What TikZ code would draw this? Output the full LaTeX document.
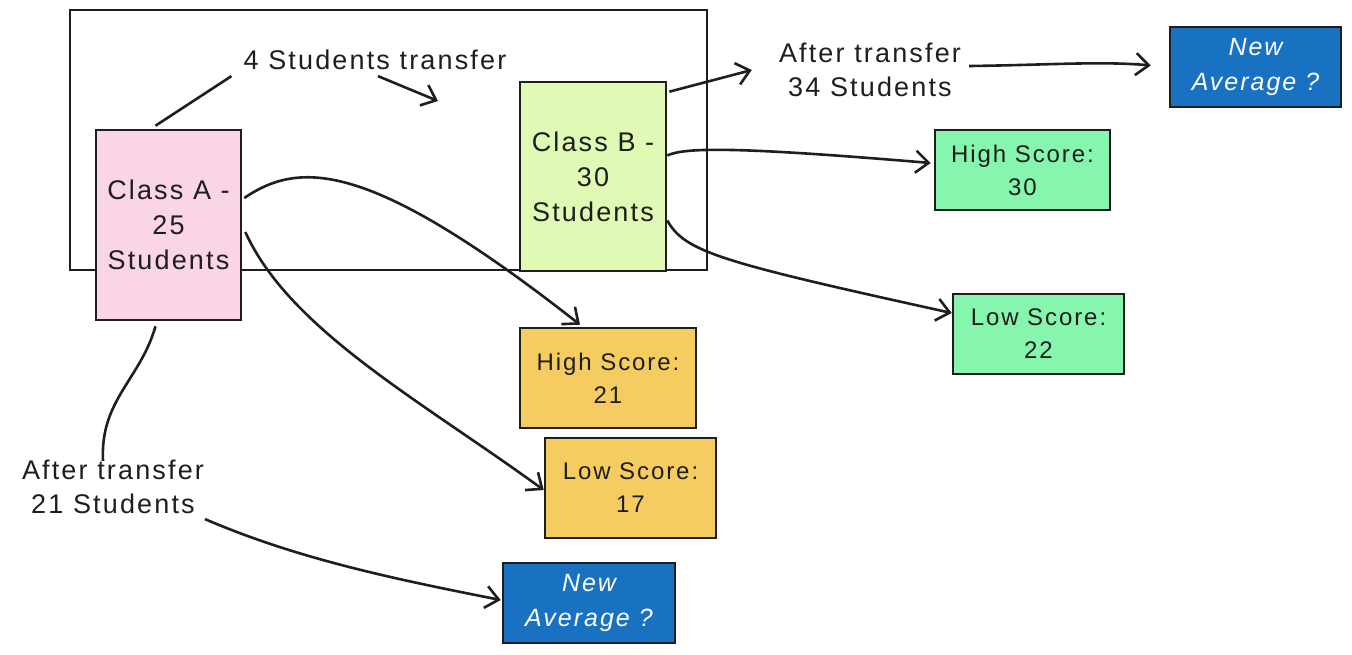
\documentclass[tikz,border=0pt]{standalone}
\usepackage{fontspec}
\setmainfont{Liberation Sans}[LetterSpace=8]
\usetikzlibrary{arrows.meta}
\definecolor{ink}{HTML}{1E1E1E}
\definecolor{pinkf}{HTML}{F9D5E5}
\definecolor{limef}{HTML}{E0F9B5}
\definecolor{mintf}{HTML}{86F5AE}
\definecolor{yellowf}{HTML}{F5CC60}
\definecolor{bluef}{HTML}{1971C2}
\tikzset{
  box/.style={draw=ink, line width=2.6pt, align=center, inner sep=0pt,
    font=\fontsize{27}{35}\selectfont, text=ink},
  classbox/.style={box, minimum width=145pt, minimum height=190pt},
  scorebox/.style={box, minimum width=172pt, font=\fontsize{24}{33}\selectfont},
  avgbox/.style={box, fill=bluef, text=white, minimum width=172pt, minimum height=80pt, font=\itshape\fontsize{25}{35}\selectfont},
  lbl/.style={align=center, inner sep=2pt, text=ink, font=\fontsize{27}{34}\selectfont},
  conn/.style={draw=ink, line width=2.6pt},
  arr/.style={conn, -{Straight Barb[length=13pt,width=22pt,line width=2.6pt]}},
  frame/.style={draw=ink, line width=2pt, minimum width=637pt, minimum height=260pt, inner sep=0pt}
}
\begin{document}
\begin{tikzpicture}[x=1pt,y=-1pt]
\useasboundingbox (0,0) rectangle (1352,654);
\node[frame] (fr) at (388.5,140) {};
\node[classbox, fill=pinkf] (A) at (168.5,225) {Class A -\\25\\Students};
\node[classbox, fill=limef, minimum width=146pt, minimum height=189pt] (B) at (593,176.5) {Class B -\\30\\Students};
\node[lbl] (t4) at (375,60) {4 Students transfer};
\node[lbl] (t34) at (870,70) {After transfer\\34 Students};
\node[lbl] (t21) at (113,487) {After transfer\\21 Students};
\node[avgbox, minimum width=171pt] (avgB) at (1255.5,67) {New\\Average ?};
\node[avgbox] (avgA) at (589,603) {New\\Average ?};
\node[scorebox, fill=mintf, minimum width=175pt, minimum height=80pt] (h30) at (1022.5,170) {High Score:\\30};
\node[scorebox, fill=mintf, minimum width=171pt, minimum height=80pt] (l22) at (1038.5,334) {Low Score:\\22};
\node[scorebox, fill=yellowf, minimum width=176pt, minimum height=100pt] (h21) at (608,378) {High Score:\\21};
\node[scorebox, fill=yellowf, minimum width=171pt, minimum height=100pt] (l17) at (630.5,488) {Low Score:\\17};
\coordinate (tB) at (438,101);
% connectors
\draw[conn] ([xshift=-13pt,yshift=3pt]A.north) -- ([xshift=-10pt,yshift=-4pt]t4.south west);
\draw[arr] ([xshift=3pt,yshift=-4pt]t4.south) -- (tB);
\draw[arr] ([xshift=2pt,yshift=-11pt]B.north east) -- ([xshift=-25pt]t34.west);
\draw[arr, shorten >=18pt] ([xshift=6pt,yshift=4pt]t34.east) .. controls (1050,65) and (1100,61) .. (avgB.west);
\draw[arr] ([yshift=21pt]B.east) .. controls (685,147) and (740,147) .. ([xshift=-3pt,yshift=7pt]h30.west);
\draw[arr] ([yshift=-44pt]B.east) .. controls (685,252) and (720,262) .. ([yshift=21pt]l22.west);
\draw[arr] ([xshift=2pt,yshift=27pt]A.east) .. controls (300,160) and (370,160) .. ([xshift=-28pt,yshift=2pt]h21.north);
\draw[arr] ([xshift=3pt,yshift=-7pt]A.east) .. controls (290,330) and (420,400) .. ([yshift=-2pt]l17.west);
\draw[conn] ([xshift=-13pt,yshift=-5pt]A.south) .. controls (140,380) and (100,400) .. ([xshift=-10pt,yshift=-3pt]t21.north);
\draw[arr] ([xshift=92pt,yshift=-3pt]t21.south) .. controls (300,560) and (400,580) .. ([xshift=-1pt,yshift=3pt]avgA.west);
\end{tikzpicture}
\end{document}
